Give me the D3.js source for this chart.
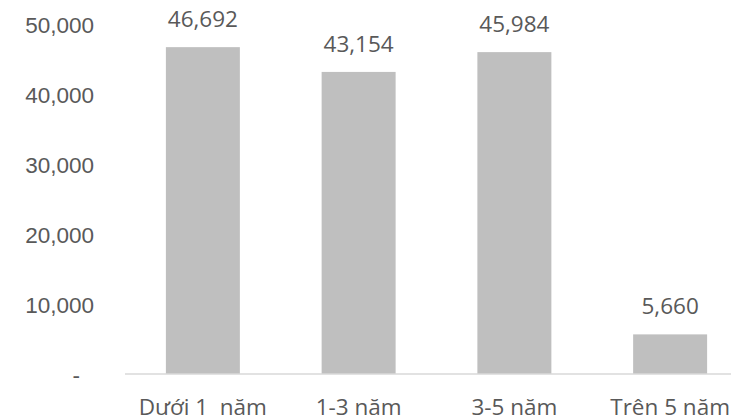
<!DOCTYPE html>
<style>
  body { margin: 0; background: #fff; }
  svg { display: block; font-family: "Open Sans", sans-serif; }
  .tick text, .lbl, .xlbl { fill: #595959; font-size: 22.5px; }
  .xlbl { white-space: pre; }
  .bar { fill: #bfbfbf; }
</style>
<body>
</body>
<script src="https://cdn.jsdelivr.net/npm/d3@7/dist/d3.min.js"></script>
<script>
  const categories = ['Dưới 1  năm', '1-3 năm', '3-5 năm', 'Trên 5 năm'];
  const values = [46692, 43154, 45984, 5660];
  const yTicks = [0, 10000, 20000, 30000, 40000, 50000];

  const w = 731, h = 420;
  const svg = d3.select('body').append('svg')
    .attr('width', w)
    .attr('height', h);

  const x = d3.scaleBand().domain(categories).range([125, 748]).paddingInner(0.525).paddingOuter(0.2625);
  const y = d3.scaleLinear().domain([0, 50000]).range([374, 24]);

  const fmt = d3.format(',');

  // y axis labels, no line
  const ya = svg.append('g')
    .attr('transform', 'translate(94, 0)')
    .call(d3.axisLeft(y).tickValues(yTicks).tickSize(0).tickPadding(0)
      .tickFormat(d => d === 0 ? '-' : fmt(d)));
  ya.select('.domain').remove();
  ya.selectAll('.tick text').attr('font-family', null).attr('font-size', null)
    .attr('dy', '0.36em')
    .attr('dx', d => d === 0 ? -14 : 0);

  // bars
  svg.append('g').selectAll('rect')
    .data(values)
    .join('rect')
    .attr('class', 'bar')
    .attr('x', (d, i) => x(categories[i]))
    .attr('width', x.bandwidth())
    .attr('y', d => y(d))
    .attr('height', d => y(0) - y(d));

  // baseline
  svg.append('line')
    .attr('x1', 125).attr('x2', w)
    .attr('y1', y(0)).attr('y2', y(0))
    .attr('stroke', '#d9d9d9').attr('stroke-width', 1.5);

  // value labels
  svg.append('g').selectAll('text')
    .data(values)
    .join('text')
    .attr('class', 'lbl')
    .attr('text-anchor', 'middle')
    .attr('x', (d, i) => x(categories[i]) + x.bandwidth() / 2)
    .attr('y', d => y(d) - 20)
    .text(d => fmt(d));

  // category labels
  svg.append('g').selectAll('text')
    .data(categories)
    .join('text')
    .attr('class', 'xlbl')
    .attr('text-anchor', 'middle')
    .attr('x', d => x(d) + x.bandwidth() / 2)
    .attr('y', 415)
    .text(d => d);
</script>
